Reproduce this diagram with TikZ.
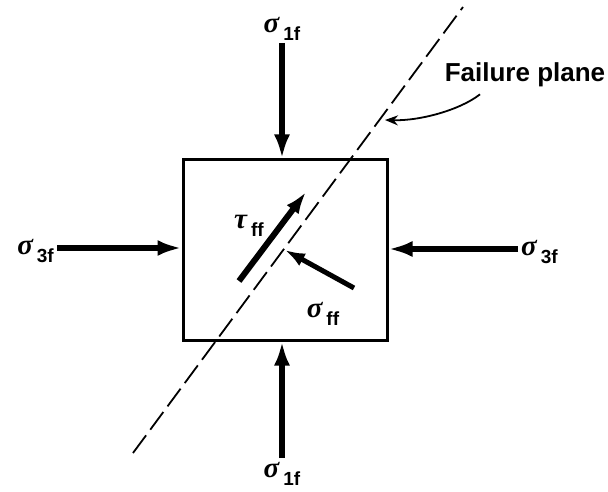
\documentclass[tikz,border=0pt]{standalone}
\usepackage{fontspec}
\setmainfont{Liberation Sans}
\newfontfamily\greekfont{Liberation Serif}
\usepackage{tikz}
\usetikzlibrary{arrows.meta,positioning}

\newcommand{\stresslbl}[2]{{\fontsize{29}{32}\selectfont\greekfont\bfseries\itshape #1}\kern4pt\raisebox{-8pt}{\fontsize{19}{22}\selectfont\bfseries #2}}

\begin{document}
\begin{tikzpicture}[x=1pt, y=-1pt,
  force/.style={line width=6pt, -{Latex[length=24pt,width=16pt]}},
  stress/.style={inner sep=1pt},
  pointer/.style={line width=1.8pt, -{Stealth[length=13pt,width=10pt]}}]
  \useasboundingbox (0,0) rectangle (608,492);

  % Element
  \node[draw, line width=3pt, minimum width=204pt, minimum height=180pt] (box) at (285,250) {};

  % Points de départ des forces
  \coordinate (t1) at (282,43);
  \coordinate (b1) at (282,458);
  \coordinate (l3) at (57,248);
  \coordinate (r3) at (518,249);

  \node[stress] (s1top) [above=1pt of t1] {\stresslbl{σ}{1f}};
  \node[stress] (s1bot) [below=3pt of b1] {\stresslbl{σ}{1f}};
  \node[stress] (s3left) [left=2pt of l3, yshift=-3pt] {\stresslbl{σ}{3f}};
  \node[stress] (s3right) [right=2pt of r3, yshift=-3pt] {\stresslbl{σ}{3f}};

  \draw[force] (t1) -- (t1 |- box.north);
  \draw[force] (b1) -- (b1 |- box.south);
  \draw[force] (l3) -- (l3 -| box.west);
  \draw[force] (r3) -- (r3 -| box.east);

  % Plan de rupture
  \coordinate (ptop) at (463,7);
  \coordinate (pbot) at (133,453);
  \draw[line width=1.8pt, dash pattern=on 22pt off 7pt] (pbot) -- (ptop);

  \node[font=\fontsize{26}{30}\selectfont\bfseries, inner sep=0pt] (plane) at (525,75) {Failure plane};
  \coordinate (fpt) at (385,120);
  \draw[pointer] ([xshift=-45pt,yshift=-7pt]plane.south) .. controls (460,110) and (420,121) .. (fpt);

  % Contraintes sur le plan
  \coordinate (tauA) at (239,281);
  \coordinate (tauB) at (306,192);
  \coordinate (sigA) at (354,288);
  \coordinate (sigB) at (285,250);
  \draw[line width=6pt, -{Latex[length=22pt,width=15pt]}] (tauA) -- (tauB);
  \draw[line width=5pt, -{Latex[length=20pt,width=14pt]}] (sigA) -- (sigB);

  \node[stress] (tff) at (249,226) {\stresslbl{τ}{ff}};
  \node[stress] (sff) at (323,314) {\stresslbl{σ}{ff}};
\end{tikzpicture}
\end{document}
